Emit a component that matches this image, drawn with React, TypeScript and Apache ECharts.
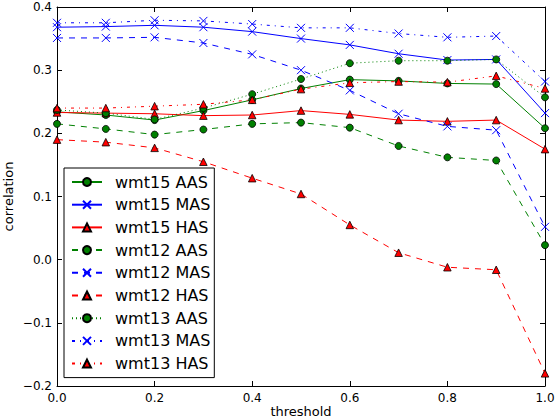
// Correlacao por limiar (threshold) para os tres conjuntos wmt15/wmt12/wmt13,
// cada um com as variantes AAS, MAS e HAS. Estilo imitando o matplotlib classico:
// moldura nos quatro lados, ticks para dentro, legenda com borda preta.
import { useEffect, useRef } from 'react'
import * as echarts from 'echarts'

const thresholds = [0.0, 0.1, 0.2, 0.3, 0.4, 0.5, 0.6, 0.7, 0.8, 0.9, 1.0]

const wmt15AAS = [0.234, 0.229, 0.221, 0.236, 0.253, 0.271, 0.285, 0.283, 0.279, 0.278, 0.208]
const wmt15MAS = [0.368, 0.369, 0.371, 0.368, 0.361, 0.35, 0.34, 0.326, 0.316, 0.317, 0.232]
const wmt15HAS = [0.233, 0.232, 0.231, 0.228, 0.229, 0.236, 0.23, 0.221, 0.219, 0.221, 0.175]
const wmt12AAS = [0.215, 0.207, 0.198, 0.206, 0.215, 0.217, 0.209, 0.18, 0.162, 0.157, 0.023]
const wmt12MAS = [0.351, 0.351, 0.352, 0.343, 0.325, 0.3, 0.268, 0.231, 0.211, 0.205, 0.052]
const wmt12HAS = [0.19, 0.186, 0.177, 0.155, 0.129, 0.104, 0.055, 0.011, -0.012, -0.016, -0.18]
const wmt13AAS = [0.237, 0.232, 0.222, 0.24, 0.262, 0.286, 0.311, 0.315, 0.315, 0.317, 0.257]
const wmt13MAS = [0.375, 0.375, 0.379, 0.378, 0.373, 0.367, 0.367, 0.358, 0.352, 0.354, 0.282]
const wmt13HAS = [0.24, 0.24, 0.243, 0.246, 0.253, 0.27, 0.28, 0.282, 0.281, 0.291, 0.271]

const FONTE = 'DejaVu Sans'
const VERDE = '#008000'
const AZUL = '#0000ff'
const VERMELHO = '#ff0000'

// marcador "x" do matplotlib: so traco, sem preenchimento
const SIMBOLO_X = 'path://M0,0L10,10M10,0L0,10'

const TRACOS = {
  solid: 'solid',
  dashed: [6, 6],
  dotted: [1, 3],
  dashdot: [3, 5, 1, 5],
}

function serie(nome: string, valores: number[], tipo: 'AAS' | 'MAS' | 'HAS', traco: keyof typeof TRACOS) {
  const cor = tipo === 'AAS' ? VERDE : tipo === 'MAS' ? AZUL : VERMELHO
  const simbolo = tipo === 'AAS' ? 'circle' : tipo === 'MAS' ? SIMBOLO_X : 'triangle'
  return {
    name: nome,
    type: 'line',
    data: thresholds.map((t, i) => [t, valores[i]]),
    symbol: simbolo,
    symbolSize: tipo === 'AAS' ? 7 : tipo === 'HAS' ? 7.5 : 8,
    showAllSymbol: true,
    lineStyle: { color: cor, width: 1, type: TRACOS[traco] },
    itemStyle:
      tipo === 'MAS'
        ? { color: 'transparent', borderColor: cor, borderWidth: 1 }
        : { color: cor, borderColor: '#000', borderWidth: 0.8 },
  }
}

const rotulo = (v: number) => {
  const s = (Math.abs(v) < 1e-9 ? 0 : v).toFixed(1)
  return s.replace('-', '\u2212')
}

export default function App() {
  const containerRef = useRef<HTMLDivElement>(null)

  useEffect(() => {
    document.body.style.margin = '0'
    if (!containerRef.current) return
    const grafico = echarts.init(containerRef.current, undefined, { renderer: 'svg' })

    const eixoBase = {
      type: 'value',
      axisLine: { show: true, onZero: false, lineStyle: { color: '#000', width: 1 } },
      axisTick: { show: true, inside: true, length: 5, lineStyle: { color: '#000' } },
      splitLine: { show: false },
    }

    grafico.setOption({
      animation: false,
      backgroundColor: '#fff',
      textStyle: { fontFamily: FONTE, color: '#000' },
      grid: { left: 57, right: 11, top: 7, bottom: 34, outerBoundsMode: 'none' },
      xAxis: [
        {
          ...eixoBase,
          min: 0,
          max: 1,
          interval: 0.2,
          position: 'bottom',
          name: 'threshold',
          nameLocation: 'middle',
          nameGap: 19,
          nameMoveOverlap: false,
          nameTextStyle: { fontSize: 13, color: '#000', fontFamily: FONTE },
          axisLabel: { margin: 6, fontSize: 12, color: '#000', fontFamily: FONTE, formatter: rotulo },
        },
        { ...eixoBase, min: 0, max: 1, interval: 0.2, position: 'top', axisLabel: { show: false } },
      ],
      yAxis: [
        {
          ...eixoBase,
          min: -0.2,
          max: 0.4,
          interval: 0.1,
          position: 'left',
          name: 'correlation',
          nameLocation: 'middle',
          nameGap: 42,
          nameMoveOverlap: false,
          nameTextStyle: { fontSize: 13, color: '#000', fontFamily: FONTE },
          axisLabel: { margin: 5, fontSize: 12, color: '#000', fontFamily: FONTE, formatter: rotulo },
        },
        { ...eixoBase, min: -0.2, max: 0.4, interval: 0.1, position: 'right', axisLabel: { show: false } },
      ],
      legend: {
        orient: 'vertical',
        left: 64,
        top: 168,
        itemWidth: 30,
        itemHeight: 10,
        itemGap: 6.7,
        padding: [6, 4, 6, 7],
        backgroundColor: '#fff',
        borderColor: '#000',
        borderWidth: 1,
        borderRadius: 0,
        textStyle: { fontSize: 16, color: '#000', fontFamily: FONTE, padding: [0, 0, 0, 8] },
      },
      series: [
        serie('wmt15 AAS', wmt15AAS, 'AAS', 'solid'),
        serie('wmt15 MAS', wmt15MAS, 'MAS', 'solid'),
        serie('wmt15 HAS', wmt15HAS, 'HAS', 'solid'),
        serie('wmt12 AAS', wmt12AAS, 'AAS', 'dashed'),
        serie('wmt12 MAS', wmt12MAS, 'MAS', 'dashed'),
        serie('wmt12 HAS', wmt12HAS, 'HAS', 'dashed'),
        serie('wmt13 AAS', wmt13AAS, 'AAS', 'dotted'),
        serie('wmt13 MAS', wmt13MAS, 'MAS', 'dashdot'),
        serie('wmt13 HAS', wmt13HAS, 'HAS', 'dashdot'),
      ],
    })

    return () => {
      grafico.dispose()
    }
  }, [])

  return <div ref={containerRef} style={{ width: 556, height: 420 }} />
}
